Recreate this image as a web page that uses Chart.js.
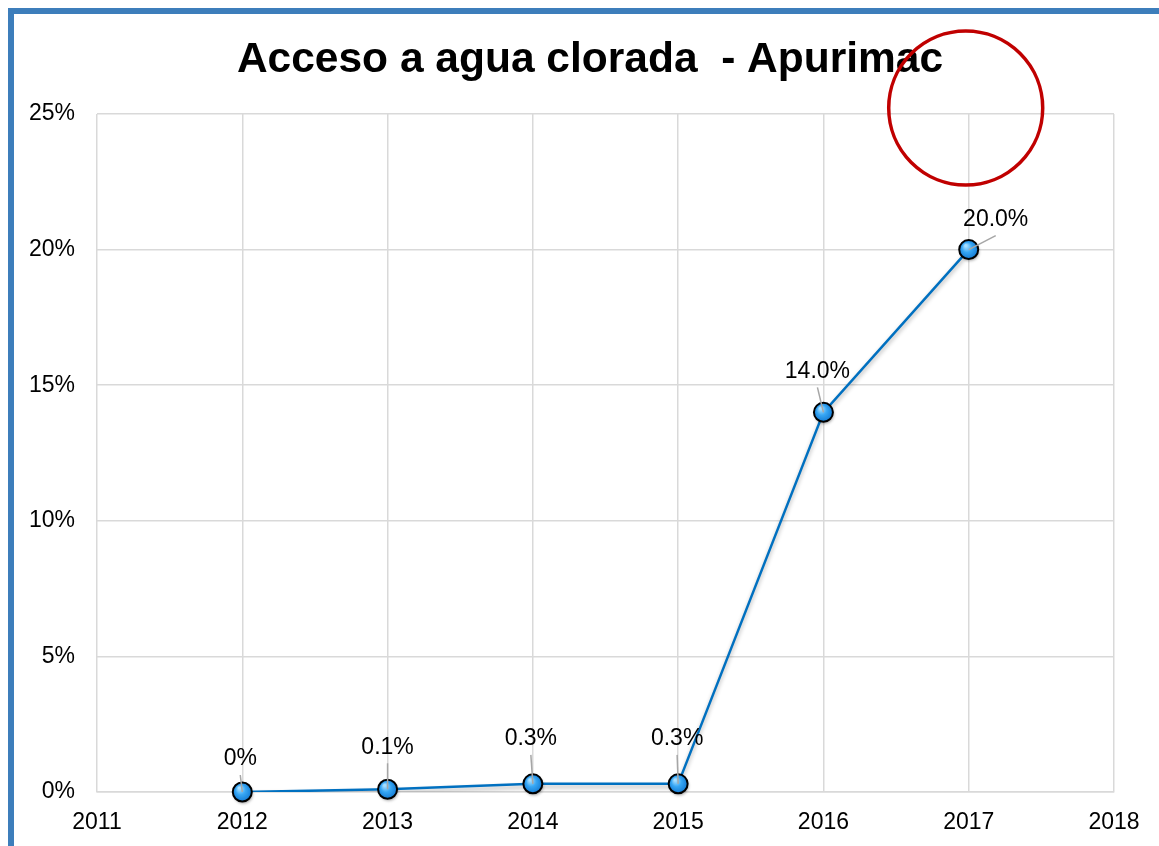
<!DOCTYPE html>
<html>
<head>
<meta charset="utf-8">
<script src="https://cdn.jsdelivr.net/npm/chart.js@4.4.0/dist/chart.umd.min.js"></script>
<style>
    html, body { margin: 0; padding: 0; background: #fff; }
    #frame {
        position: absolute; left: 8px; top: 8px; width: 1200px; height: 900px;
        border-left: 6px solid #3d7ebb; border-top: 6px solid #3d7ebb;
    }
    #wrap { position: absolute; left: 0; top: 0; width: 1159px; height: 846px; }
</style>
</head>
<body>
<div id="frame"></div>
<div id="wrap"><canvas id="lineChart" width="1159" height="846"></canvas></div>
<script>
// =====================
// Данные
// =====================
const years = [2012, 2013, 2014, 2015, 2016, 2017];
const values = [0, 0.1, 0.3, 0.3, 14.0, 20.0];
const valueLabels = ["0%", "0.1%", "0.3%", "0.3%", "14.0%", "20.0%"];
const yTicks = [0, 5, 10, 15, 20, 25];
const xMin = 2011;
const xMax = 2018;

// смещения подписей относительно точек (px)
const labelOffsets = [[-2, -33], [0, -42], [-2, -45], [-1, -45], [-6, -41], [27, -30]];

const FONT = "'Liberation Sans', Arial, sans-serif";

// тень линии, точки, подписи, заголовок, кружок
const extras = {
    id: "extras",
    beforeDatasetsDraw(chart) {
        const ctx = chart.ctx;
        ctx.save();
        ctx.shadowColor = "rgba(0,0,0,0.3)";
        ctx.shadowBlur = 4;
        ctx.shadowOffsetY = 3;
    },
    afterDatasetsDraw(chart) {
        const ctx = chart.ctx;
        ctx.restore();
        const meta = chart.getDatasetMeta(0);

        // точки с бликом
        meta.data.forEach(pt => {
            ctx.save();
            ctx.shadowColor = "rgba(0,0,0,0.35)";
            ctx.shadowBlur = 3;
            ctx.shadowOffsetX = 1;
            ctx.shadowOffsetY = 2;
            const g = ctx.createRadialGradient(pt.x - 3, pt.y - 4, 1, pt.x, pt.y, 10);
            g.addColorStop(0, "#a6deff");
            g.addColorStop(0.45, "#36a6f4");
            g.addColorStop(1, "#1277d0");
            ctx.beginPath();
            ctx.arc(pt.x, pt.y, 9.5, 0, Math.PI * 2);
            ctx.fillStyle = g;
            ctx.fill();
            ctx.restore();
            ctx.beginPath();
            ctx.arc(pt.x, pt.y, 9.5, 0, Math.PI * 2);
            ctx.lineWidth = 2;
            ctx.strokeStyle = "#000";
            ctx.stroke();
        });

        // подписи значений с выносками
        ctx.font = "23px " + FONT;
        ctx.textAlign = "center";
        ctx.textBaseline = "middle";
        meta.data.forEach((pt, i) => {
            const lx = pt.x + labelOffsets[i][0];
            const ly = pt.y + labelOffsets[i][1];
            ctx.beginPath();
            ctx.moveTo(lx, ly + 16);
            ctx.lineTo(pt.x, pt.y);
            ctx.strokeStyle = "#a6a6a6";
            ctx.lineWidth = 1.5;
            ctx.stroke();
            ctx.fillStyle = "#000";
            ctx.fillText(valueLabels[i], lx, ly);
        });
    },
    afterDraw(chart) {
        const ctx = chart.ctx;
        const xs = chart.scales.x;
        const ys = chart.scales.y;
        ctx.save();
        ctx.font = "bold 42.5px " + FONT;
        ctx.textAlign = "center";
        ctx.textBaseline = "middle";
        ctx.fillStyle = "#000";
        ctx.fillText("Acceso a agua clorada  - Apurimac", 590, 60);

        // красный кружок
        ctx.beginPath();
        ctx.arc(xs.getPixelForValue(2017) - 3, ys.getPixelForValue(25) - 6, 77, 0, Math.PI * 2);
        ctx.strokeStyle = "#c00000";
        ctx.lineWidth = 3.5;
        ctx.stroke();
        ctx.restore();
    }
};

new Chart(document.getElementById("lineChart"), {
    type: "line",
    data: {
        datasets: [{
            data: years.map((y, i) => ({ x: y, y: values[i] })),
            borderColor: "#0070c0",
            borderWidth: 2.5,
            fill: false,
            tension: 0,
            pointRadius: 0
        }]
    },
    options: {
        responsive: false,
        animation: false,
        layout: { padding: { top: 114, right: 45, left: 0, bottom: 0 } },
        plugins: {
            legend: { display: false },
            tooltip: { enabled: false },
            title: { display: false }
        },
        scales: {
            x: {
                type: "linear",
                min: xMin,
                max: xMax,
                ticks: {
                    stepSize: 1,
                    padding: 17,
                    color: "#000",
                    font: { family: FONT, size: 23 },
                    callback: v => String(v)
                },
                grid: { color: "#d9d9d9", lineWidth: 1.5, drawTicks: false },
                border: { color: "#d9d9d9", width: 1.5 },
                afterFit: s => { s.height = 54; }
            },
            y: {
                min: 0,
                max: 25,
                afterBuildTicks: s => { s.ticks = yTicks.map(v => ({ value: v })); },
                ticks: {
                    padding: 22,
                    color: "#000",
                    font: { family: FONT, size: 23 },
                    callback: v => v + "%"
                },
                grid: { color: "#d9d9d9", lineWidth: 1.5, drawTicks: false },
                border: { display: false },
                afterFit: s => { s.width = 97; }
            }
        }
    },
    plugins: [extras]
});
</script>
</body>
</html>
